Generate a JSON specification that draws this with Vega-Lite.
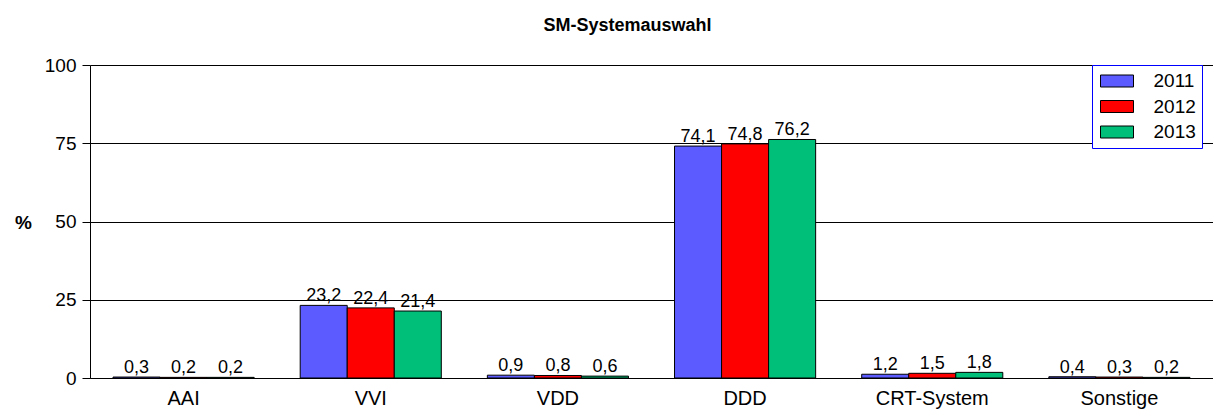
{
  "$schema": "https://vega.github.io/schema/vega-lite/v6.json",
  "width": 1123,
  "height": 313,
  "autosize": {"type": "none"},
  "padding": {"left": 90, "top": 65, "right": 0, "bottom": 36},
  "background": "white",
  "config": {
    "locale": {"number": {"decimal": ",", "thousands": ".", "grouping": [3], "currency": ["", " €"]}},
    "view": {"stroke": null},
    "font": "Liberation Sans"
  },
  "title": {"text": "SM-Systemauswahl", "fontSize": 18, "fontWeight": "bold", "font": "Liberation Sans", "anchor": "middle", "dx": -24, "offset": 21, "color": "black"},
  "data": {"values": [
    {"cat": "AAI", "year": "2011", "value": 0.3},
    {"cat": "AAI", "year": "2012", "value": 0.2},
    {"cat": "AAI", "year": "2013", "value": 0.2},
    {"cat": "VVI", "year": "2011", "value": 23.2},
    {"cat": "VVI", "year": "2012", "value": 22.4},
    {"cat": "VVI", "year": "2013", "value": 21.4},
    {"cat": "VDD", "year": "2011", "value": 0.9},
    {"cat": "VDD", "year": "2012", "value": 0.8},
    {"cat": "VDD", "year": "2013", "value": 0.6},
    {"cat": "DDD", "year": "2011", "value": 74.1},
    {"cat": "DDD", "year": "2012", "value": 74.8},
    {"cat": "DDD", "year": "2013", "value": 76.2},
    {"cat": "CRT-System", "year": "2011", "value": 1.2},
    {"cat": "CRT-System", "year": "2012", "value": 1.5},
    {"cat": "CRT-System", "year": "2013", "value": 1.8},
    {"cat": "Sonstige", "year": "2011", "value": 0.4},
    {"cat": "Sonstige", "year": "2012", "value": 0.3},
    {"cat": "Sonstige", "year": "2013", "value": 0.2}
  ]},
  "encoding": {
    "x": {
      "field": "cat", "type": "nominal",
      "sort": ["AAI", "VVI", "VDD", "DDD", "CRT-System", "Sonstige"],
      "scale": {"paddingInner": 0.246, "paddingOuter": 0.123},
      "axis": {"title": null, "labelAngle": 0, "ticks": false, "labelFontSize": 20, "labelPadding": 10, "domainColor": "black", "labelColor": "black", "grid": false, "labelFont": "Liberation Sans"}
    },
    "xOffset": {"field": "year", "type": "nominal"},
    "y": {
      "field": "value", "type": "quantitative",
      "scale": {"domain": [0, 100]},
      "axis": {"title": "%", "titleAngle": 0, "titleFontSize": 19, "titleFontWeight": "bold", "titleX": -67, "titleY": 157, "titleAlign": "center", "titleBaseline": "middle", "titleColor": "black",
        "values": [0, 25, 50, 75, 100], "grid": true, "gridColor": "black", "gridOpacity": 1, "domainColor": "black", "tickColor": "black", "tickSize": 8, "labelFontSize": 19, "labelColor": "black", "labelPadding": 6, "labelFont": "Liberation Sans"}
    }
  },
  "layer": [
    {
      "mark": {"type": "bar", "stroke": "black", "strokeWidth": 1},
      "encoding": {
        "color": {
          "field": "year", "type": "nominal",
          "scale": {"range": ["#5B5BFF", "#FF0000", "#00BF78"]},
          "legend": {"orient": "none", "legendX": 1002, "legendY": 0, "title": null,
            "symbolType": "M-1.65,-0.6H1.65V0.6H-1.65Z", "symbolSize": 400, "symbolStrokeColor": "black", "symbolStrokeWidth": 1,
            "labelFontSize": 19, "labelOffset": 26, "symbolOffset": 9, "rowPadding": 4.5, "padding": 5.5,
            "strokeColor": "#0000FF", "fillColor": "white", "labelColor": "black", "labelFont": "Liberation Sans"}
        }
      }
    },
    {
      "mark": {"type": "text", "baseline": "alphabetic", "dy": -4, "fontSize": 18, "color": "black", "font": "Liberation Sans"},
      "encoding": {"text": {"field": "value", "type": "quantitative", "format": ".1f"}}
    }
  ]
}
